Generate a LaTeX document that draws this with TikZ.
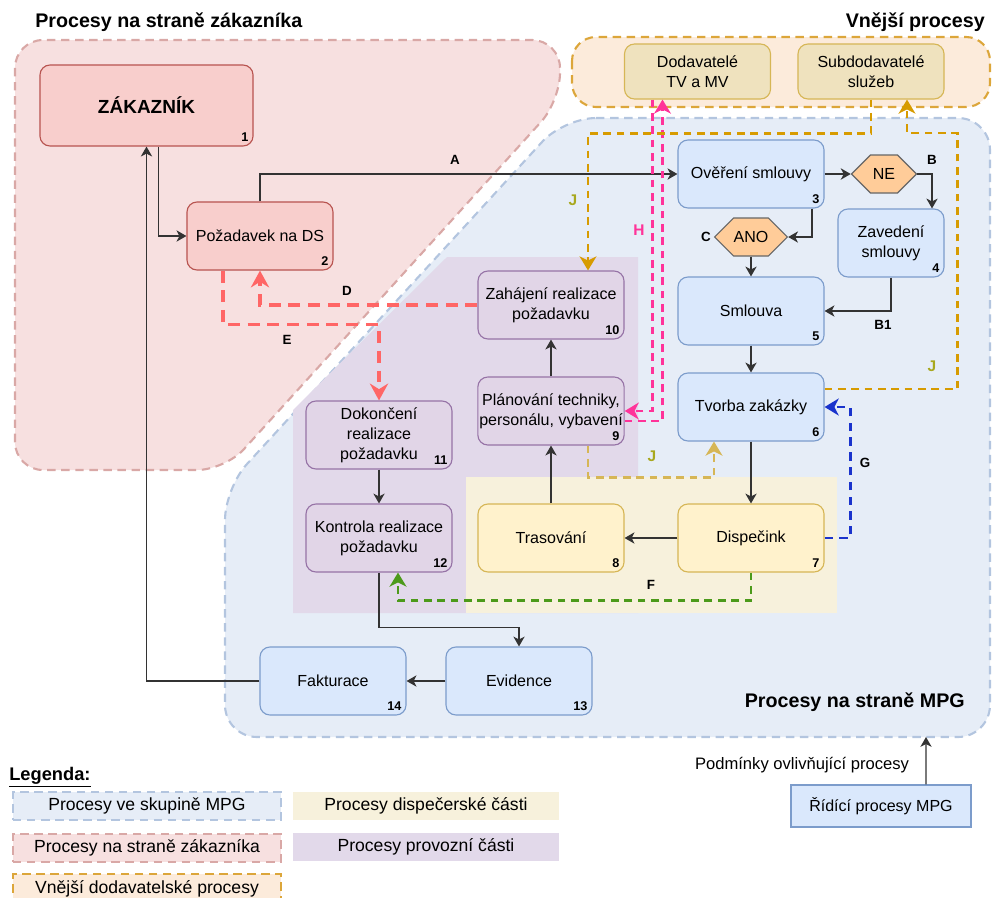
\documentclass[tikz,border=0pt]{standalone}
\usepackage{fontspec}
\setmainfont{Liberation Sans}
\usetikzlibrary{arrows.meta,shapes.symbols}

\definecolor{custfill}{HTML}{F8CECC}
\definecolor{custline}{HTML}{B85450}
\definecolor{custregfill}{HTML}{F7E0E0}
\definecolor{custregline}{HTML}{D9A8A6}
\definecolor{mpgfill}{HTML}{DAE8FC}
\definecolor{mpgline}{HTML}{7C9CCB}
\definecolor{mpgregfill}{HTML}{E6EDF7}
\definecolor{mpgregline}{HTML}{B3C5DF}
\definecolor{provfill}{HTML}{E1D5E7}
\definecolor{provline}{HTML}{9673A6}
\definecolor{provbg}{HTML}{E2D9EA}
\definecolor{dispfill}{HTML}{FFF2CC}
\definecolor{displine}{HTML}{D6B656}
\definecolor{dispbg}{HTML}{F7F1DC}
\definecolor{extfill}{HTML}{EFE2BE}
\definecolor{extregfill}{HTML}{FCEBDB}
\definecolor{extregline}{HTML}{DCA63A}
\definecolor{decfill}{HTML}{FFCC99}
\definecolor{dcol}{HTML}{FF6666}
\definecolor{fcol}{HTML}{4C9A1A}
\definecolor{gcol}{HTML}{1A33CC}
\definecolor{hcol}{HTML}{FF3399}
\definecolor{jcol}{HTML}{D79B00}
\definecolor{jlight}{HTML}{D6B656}
\definecolor{jtext}{HTML}{A8A81E}

\tikzset{
  proc/.style={rectangle, rounded corners=0.25cm, line width=0.8pt, align=center,
    minimum width=3.65cm, minimum height=1.7cm, inner sep=1pt,
    font=\fontsize{11.4}{14.2}\selectfont},
  custbox/.style={proc, draw=custline, fill=custfill},
  mpgbox/.style={proc, draw=mpgline, fill=mpgfill},
  provbox/.style={proc, draw=provline, fill=provfill},
  dispbox/.style={proc, draw=displine, fill=dispfill},
  extbox/.style={proc, draw=displine, fill=extfill, minimum height=1.375cm},
  ctrlbox/.style={proc, sharp corners, draw=mpgline, fill=mpgfill,
    minimum width=4.5cm, minimum height=1.05cm},
  decis/.style={shape=signal, signal to=east and west, draw=black!60, fill=decfill,
    line width=0.8pt, minimum width=1.625cm, minimum height=0.95cm, inner sep=0pt,
    font=\fontsize{11.4}{14.2}\selectfont},
  nrlbl/.style={anchor=south east, inner sep=3.5pt, font=\bfseries\fontsize{9}{10}\selectfont},
  boxnr/.style={label={[nrlbl]south east:#1}},
  region/.style={line width=1.5pt, dash pattern=on 6pt off 4pt},
  custreg/.style={region, draw=custregline, fill=custregfill, rounded corners=0.7cm},
  mpgreg/.style={region, draw=mpgregline, fill=mpgregfill, rounded corners=0.8cm},
  extreg/.style={region, draw=extregline, fill=extregfill, rounded corners=0.6cm},
  title/.style={font=\bfseries\fontsize{14}{16}\selectfont, inner sep=0pt},
  elbl/.style={font=\bfseries\fontsize{9.5}{10}\selectfont, inner sep=0pt},
  jlbl/.style={elbl, text=jtext, font=\bfseries\fontsize{11}{12}\selectfont},
  flow/.style={draw=black!80, line width=0.9pt, -{Stealth[length=7pt,width=8pt,inset=2pt]}},
  bigtip/.style={-{Stealth[length=10pt,width=12pt,inset=3pt]}},
  dline/.style={draw=dcol, line width=2.2pt, dash pattern=on 8.5pt off 5.5pt,
    -{Stealth[length=12pt,width=13pt,inset=4pt]}},
  jline/.style={draw=jcol, line width=1.6pt, dash pattern=on 5.5pt off 4pt, bigtip},
  legbox/.style={rectangle, minimum width=6.7cm, minimum height=0.7cm, inner sep=0pt,
    font=\fontsize{12.5}{14}\selectfont},
}

\begin{document}
\begin{tikzpicture}[x=0.025cm, y=-0.025cm]
    \useasboundingbox (0,0) rectangle (993,897);

    \draw[custreg] (15,470) -- (15,40) -- (560,40) -- (560,101) -- (225,470) -- cycle;
    \draw[mpgreg] (564,118) -- (990,118) -- (990,737) -- (225,737) -- (225,488) -- cycle;
    \draw[extreg] (572,37) rectangle (990,107);
    \fill[provbg] (293,613) -- (293,410) -- (447,257) -- (638,257) -- (638,613) -- cycle;
    \fill[dispbg] (466,477) rectangle (837,613);

    \node[title, anchor=west] (tcust) at (35,22) {Procesy na straně zákazníka};
    \node[title, anchor=east] (text) at (985,22) {Vnější procesy};
    \node[title, anchor=east] (tmpg) at (965,702) {Procesy na straně MPG};

    \node[custbox, minimum width=5.325cm, minimum height=2.025cm, boxnr=1,
      font=\bfseries\fontsize{13.5}{16}\selectfont] (b1) at (146.5,105.5) {ZÁKAZNÍK};
    \node[custbox, boxnr=2] (b2) at (260,236) {Požadavek na DS};
    \node[mpgbox, boxnr=3] (b3) at (751,174) {Ověření smlouvy};
    \node[decis] (ne) at (884,174) {NE};
    \node[mpgbox, minimum width=2.65cm, boxnr=4] (b4) at (891,243) {Zavedení\\smlouvy};
    \node[decis] (ano) at (751,237) {ANO};
    \node[mpgbox, boxnr=5] (b5) at (751,311) {Smlouva};
    \node[mpgbox, boxnr=6] (b6) at (751,407) {Tvorba zakázky};
    \node[dispbox, boxnr=7] (b7) at (751,538) {Dispečink};
    \node[dispbox, boxnr=8] (b8) at (551,538) {Trasování};
    \node[provbox, boxnr=9] (b9) at (551,411) {Plánování techniky,\\personálu, vybavení};
    \node[provbox, boxnr=10] (b10) at (551,305) {Zahájení realizace\\požadavku};
    \node[provbox, boxnr=11] (b11) at (379,435) {Dokončení\\realizace\\požadavku};
    \node[provbox, boxnr=12] (b12) at (379,538) {Kontrola realizace\\požadavku};
    \node[mpgbox, boxnr=13] (b13) at (519,681) {Evidence};
    \node[mpgbox, boxnr=14] (b14) at (333,681) {Fakturace};
    \node[extbox] (dod) at (697.5,71.5) {Dodavatelé\\TV a MV};
    \node[extbox] (sub) at (871,71.5) {Subdodavatelé\\služeb};
    \node[ctrlbox] (ridici) at (881,806) {Řídící procesy MPG};
    \node[font=\fontsize{11.8}{14}\selectfont, inner sep=0pt] (podm) at (802,765) {Podmínky ovlivňující procesy};
    \coordinate (mpgedge) at (926,737);

    \draw[flow] ([xshift=0.3cm]b1.south) |- (b2.west);
    \draw[flow] (b14.west) -| (b1.south);
    \draw[flow] (b2.north) |- (b3.west);
    \draw[flow, line width=1.6pt] (b3.east) -- (ne.west);
    \draw[flow] (ne.east) -| ([xshift=1.025cm]b4.north);
    \draw[flow] ([xshift=1.525cm]b3.south) |- (ano.east);
    \draw[flow] (ano.south) -- (b5.north);
    \draw[flow] (b4.south) |- (b5.east);
    \draw[flow] (b5.south) -- (b6.north);
    \draw[flow] (b6.south) -- (b7.north);
    \draw[flow] (b7.west) -- (b8.east);
    \draw[flow] (b8.north) -- (b9.south);
    \draw[flow] (b9.north) -- (b10.south);
    \draw[flow] (b11.south) -- (b12.north);
    \draw[flow] (b12.south) -- ++(0,55) -| (b13.north);
    \draw[flow] (b13.west) -- (b14.east);
    \draw[flow] ([xshift=1.125cm]ridici.north) -- (mpgedge);

    \draw[dline] (b10.west) -| (b2.south);
    \draw[dline] ([xshift=-0.925cm]b2.south) -- ++(0,54) -| (b11.north);
    \draw[draw=fcol, line width=1.6pt, dash pattern=on 5.5pt off 4pt, bigtip]
      (b7.south) -- ++(0,28) -| ([xshift=0.475cm]b12.south);
    \draw[draw=gcol, line width=2pt, dash pattern=on 6pt off 4.5pt, bigtip]
      (b7.east) -- ++(26,0) |- (b6.east);
    \draw[draw=hcol, line width=1.6pt, dash pattern=on 5.5pt off 4pt, bigtip]
      ([xshift=-1.125cm]dod.south) |- (b9.east);
    \draw[draw=hcol, line width=1.6pt, dash pattern=on 5.5pt off 4pt, bigtip]
      ([yshift=-0.25cm]b9.east) -| ([xshift=-0.875cm]dod.south);
    \draw[jline] (sub.south) -- ++(0,34) -| ([xshift=0.925cm]b10.north);
    \draw[jline] ([yshift=0.45cm]b6.east) -- ++(133,0) -- ++(0,-256) -| ([xshift=0.9cm]sub.south);
    \draw[jline, draw=jlight] ([xshift=0.925cm]b9.south) -- ++(0,32) -| ([xshift=-0.925cm]b6.south);

    \node[elbl] (la) at (455,160) {A};
    \node[elbl] (lb) at (932,160) {B};
    \node[elbl] (lb1) at (883,325) {B1};
    \node[elbl] (lc) at (706,237) {C};
    \node[elbl] (ld) at (347,291) {D};
    \node[elbl] (le) at (287,340) {E};
    \node[elbl] (lf) at (651,585) {F};
    \node[elbl] (lg) at (865,463) {G};
    \node[elbl, text=hcol, font=\bfseries\fontsize{11}{12}\selectfont] (lh) at (639,230) {H};
    \node[jlbl] (lj1) at (573,200) {J};
    \node[jlbl] (lj2) at (932,366) {J};
    \node[jlbl] (lj3) at (652,456) {J};

    \node[anchor=west, inner sep=0pt, font=\bfseries\fontsize{13}{15}\selectfont] (leg) at (9,777) {\underline{Legenda:}};
    \node[legbox, draw=mpgregline, fill=mpgregfill, region] (leg1) at (147,806) {Procesy ve skupině MPG};
    \node[legbox, fill=dispbg, minimum width=6.65cm] (leg2) at (426,806) {Procesy dispečerské části};
    \node[legbox, draw=custregline, fill=custregfill, region] (leg3) at (147,848) {Procesy na straně zákazníka};
    \node[legbox, fill=provbg, minimum width=6.65cm] (leg4) at (426,847) {Procesy provozní části};
    \node[legbox, draw=extregline, fill=extregfill, region, minimum height=0.75cm] (leg5) at (147,889) {Vnější dodavatelské procesy};
\end{tikzpicture}
\end{document}
